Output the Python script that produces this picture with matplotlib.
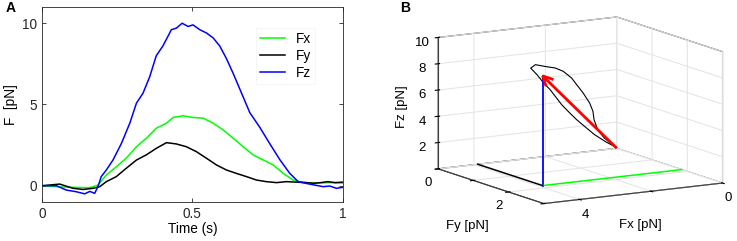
import numpy as np
import matplotlib.pyplot as plt

plt.rcParams['font.family'] = ['Liberation Sans', 'DejaVu Sans']
plt.rcParams['font.size'] = 9.5
plt.rcParams['grid.color'] = '#e3e3e3'
plt.rcParams['grid.linewidth'] = 0.7

# panel A: force components vs time
t_z = [0.0, 0.048, 0.081, 0.114, 0.142, 0.159, 0.175, 0.186, 0.197, 0.214, 0.236,
       0.264, 0.292, 0.314, 0.336, 0.358, 0.380, 0.402, 0.419, 0.430, 0.447, 0.466,
       0.486, 0.502, 0.525, 0.547, 0.569, 0.591, 0.614, 0.636, 0.691, 0.724, 0.757,
       0.791, 0.824, 0.852, 0.879, 0.907, 0.935, 0.957, 0.979, 1.0]
fz = [0.0, 0.0, -0.27, -0.37, -0.5, -0.35, -0.47, -0.06, 0.56, 0.97, 1.58,
      2.6, 3.85, 5.08, 5.7, 6.7, 8.0, 8.6, 9.2, 9.6, 9.7, 10.0,
      9.8, 9.9, 9.6, 9.4, 9.1, 8.6, 7.8, 6.9, 4.5, 3.6, 2.6,
      1.6, 0.76, 0.25, 0.14, 0.04, -0.06, -0.02, -0.16, -0.1]

t_x = [0.0, 0.048, 0.103, 0.159, 0.186, 0.214, 0.247, 0.280, 0.314, 0.347, 0.380,
       0.414, 0.436, 0.469, 0.502, 0.536, 0.569, 0.602, 0.636, 0.669, 0.702, 0.736,
       0.769, 0.802, 0.835, 0.857, 0.880, 0.913, 0.957, 1.0]
fx = [0.0, -0.06, -0.1, -0.12, 0.04, 0.66, 1.17, 1.69, 2.4, 2.92, 3.54,
      3.85, 4.2, 4.3, 4.2, 4.16, 3.85, 3.44, 2.92, 2.4, 1.9, 1.58,
      1.28, 0.76, 0.35, 0.25, 0.19, 0.16, 0.19, 0.16]

t_y = [0.0, 0.059, 0.103, 0.136, 0.170, 0.192, 0.214, 0.247, 0.280, 0.314, 0.347,
       0.380, 0.414, 0.447, 0.480, 0.513, 0.547, 0.580, 0.613, 0.646, 0.680, 0.713,
       0.746, 0.780, 0.813, 0.846, 0.880, 0.902, 0.927, 0.950, 0.975, 1.0]
fy = [0.0, 0.1, -0.16, -0.23, -0.16, -0.06, 0.25, 0.56, 1.07, 1.58, 1.9,
      2.3, 2.65, 2.57, 2.4, 2.1, 1.69, 1.28, 0.97, 0.76, 0.56, 0.35,
      0.25, 0.19, 0.25, 0.22, 0.19, 0.15, 0.19, 0.25, 0.19, 0.22]

# panel B: 3D force trajectory and mean force vector
traj_x = [0.1, 0.66, 1.0, 1.2, 1.25, 1.43, 1.77, 2.11, 2.37, 2.8, 3.23, 3.75, 4.26, 4.52,
          4.18, 3.83, 3.49, 3.23, 2.89, 2.46, 2.11, 1.69, 1.17, 0.57, 0.1]
traj_y = [0.05, 0.31, 0.47, 0.57, 0.59, 0.68, 0.84, 1.0, 1.12, 1.32, 1.53, 1.77, 2.01, 2.14,
          1.98, 1.81, 1.65, 1.53, 1.37, 1.16, 1.0, 0.8, 0.55, 0.27, 0.05]
traj_z = [0.2, 1.27, 2.15, 3.06, 3.73, 4.49, 5.5, 6.39, 7.08, 7.9, 8.47, 8.96, 9.47, 9.4,
          8.64, 7.76, 7.0, 6.31, 5.42, 4.48, 3.72, 2.9, 1.9, 0.9, 0.2]
vec = [3.89, 1.84, 8.35]   # Fx, Fy, Fz of the force vector

fig = plt.figure(figsize=(7.37, 2.41), dpi=100)

ax = fig.add_axes([0.057, 0.162, 0.408, 0.809])
ax.plot(t_x, fx, color=(0, 1, 0), lw=1.1, label='Fx')
ax.plot(t_y, fy, color='k', lw=1.1, label='Fy')
ax.plot(t_z, fz, color=(0, 0, 1), lw=1.1, label='Fz')
ax.set_xlim(0, 1)
ax.set_ylim(-1, 11)
ax.set_xticks([0, 0.5, 1])
ax.set_xticklabels(['0', '0.5', '1'])
ax.set_yticks([0, 5, 10])
ax.tick_params(direction='in', top=True, right=True, length=3, width=0.6, colors='#262626', labelsize=9.8)
for s in ax.spines.values():
    s.set_color('#262626')
    s.set_linewidth(0.6)
ax.set_xlabel('Time (s)', fontsize=9.8, labelpad=1)
ax.set_ylabel('F  [pN]', fontsize=9.8, labelpad=3)
leg = ax.legend(loc='upper right', bbox_to_anchor=(0.907, 0.892), borderaxespad=0,
                frameon=True, fancybox=False, handlelength=1.8, fontsize=9.8,
                labelspacing=0.2, borderpad=0.3, handletextpad=0.8)
leg.get_frame().set_edgecolor('#f2f2f2')
leg.get_frame().set_linewidth(0.6)

fig.text(0.007, 0.95, 'A', fontsize=10, fontweight='bold')
fig.text(0.543, 0.95, 'B', fontsize=10, fontweight='bold')

# 3D panel
ax3 = fig.add_axes([0.548, 0.029, 0.47, 1.0], projection='3d', proj_type='ortho')
ax3.view_init(elev=11.2, azim=59.4)
ax3.set_box_aspect((1, 1, 0.645), zoom=1.3)
ax3.plot(traj_x, traj_y, traj_z, color='k', lw=0.8)
ax3.plot([vec[0], vec[0]], [vec[1], vec[1]], [0, vec[2]], color=(0, 0, 1), lw=1.3)
ax3.plot([vec[0], 0], [vec[1], vec[1]], [0, 0], color=(0, 1, 0), lw=1.1)
ax3.plot([vec[0], vec[0]], [vec[1], 0], [0, 0], color='k', lw=1.1)
ax3.quiver(0, 0, 0, vec[0], vec[1], vec[2], color='r', lw=2, arrow_length_ratio=0.1)
ax3.set_xlim(0, 5)
ax3.set_ylim(0, 3)
ax3.set_zlim(0, 10)
ax3.set_xticks([0, 2, 4])
ax3.set_xticklabels(['0', '', '4'])
ax3.set_yticks([0, 1, 2, 3])
ax3.set_yticklabels(['0', '', '2', ''])
ax3.set_zticks([0, 2, 4, 6, 8, 10])
ax3.set_zticklabels(['', '2', '4', '6', '8', '10'])
for a in (ax3.xaxis, ax3.yaxis, ax3.zaxis):
    a.set_pane_color((1, 1, 1, 1))
    a.pane.set_edgecolor('#404040')
    a.pane.set_linewidth(0.8)
    a.line.set_color('#404040')
    a.line.set_linewidth(0.8)
ax3.tick_params(labelsize=9.5, pad=-3)

# axis titles of the 3D box, placed like the original figure
fig.text(402 / 737, 1 - 107 / 241, 'Fz [pN]', rotation=90, ha='center', va='center', fontsize=9.5)
fig.text(467 / 737, 1 - 226 / 241, 'Fy [pN]', ha='center', va='center', fontsize=9.5)
fig.text(640 / 737, 1 - 225 / 241, 'Fx [pN]', ha='center', va='center', fontsize=9.5)

fig.savefig('out.png', dpi=100)
